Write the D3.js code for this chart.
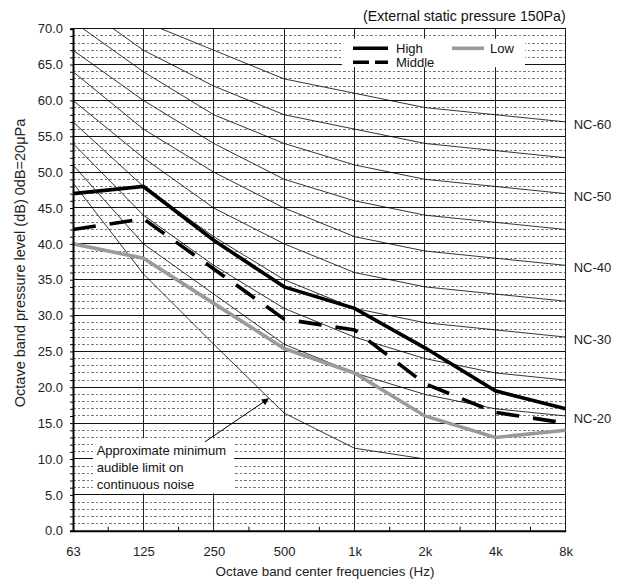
<!DOCTYPE html>
<html>
<head>
<meta charset="utf-8">
<script src="https://cdn.jsdelivr.net/npm/d3@7"></script>
<style>
  body { margin: 0; background: #fff; }
  svg { display: block; font-family: "Liberation Sans", Arial, sans-serif; }
</style>
</head>
<body>
<svg id="chart" width="625" height="581"></svg>
<script>
// Octave band centre frequencies
const freqs = ["63", "125", "250", "500", "1k", "2k", "4k", "8k"];

// Measured sound levels (dB)
const high = [47, 48, 40.5, 34, 31, 25.5, 19.5, 17];
const middle = [42, 43.5, 36.5, 29.5, 28, 20.5, 16.5, 15];
const low = [40, 38, 31.7, 25.4, 22, 16, 13, 14];

// NC reference curves
const ncNames = ["NC-20", "NC-25", "NC-30", "NC-35", "NC-40", "NC-45", "NC-50", "NC-55", "NC-60"];
const ncValues = [
  [51, 40, 33, 26, 22, 19, 17, 16],
  [54, 44, 37, 31, 27, 24, 22, 21],
  [57, 48, 41, 35, 31, 29, 28, 27],
  [60, 52, 45, 40, 36, 34, 33, 32],
  [64, 56, 50, 45, 41, 39, 38, 37],
  [67, 60, 54, 49, 46, 44, 43, 42],
  [71, 64, 58, 54, 51, 49, 48, 47],
  [74, 67, 62, 58, 56, 54, 53, 52],
  [77, 71, 67, 63, 61, 59, 58, 57]
];
const ncLabelled = ["NC-20", "NC-30", "NC-40", "NC-50", "NC-60"];

// Approximate minimum audible limit (63 Hz .. 2 kHz)
const audible = [48.5, 35.8, 26, 16.4, 11.5, 10];

const yMajor = d3.range(0, 71, 5);
const yMinor = d3.range(1, 70).filter(v => v % 5 !== 0);

const annotationLines = ["Approximate minimum", "audible limit on", "continuous noise"];

// Layout
let margin = { top: 28.7, right: 59.3, bottom: 50.3, left: 73 },
  width = 625 - margin.left - margin.right,
  height = 581 - margin.top - margin.bottom,
  fontSize = 13;

const svg = d3.select("#chart");
const g = svg.append("g")
  .attr("transform", "translate(" + margin.left + "," + margin.top + ")");

const x = d3.scalePoint().domain(freqs).range([0, width]);
const y = d3.scaleLinear().domain([0, 70]).range([height, 0]);
const step = x.step();

svg.append("defs").append("clipPath").attr("id", "plotClip")
  .append("rect").attr("width", width).attr("height", height);

svg.select("defs").append("marker")
  .attr("id", "arrowHead")
  .attr("viewBox", "0 0 10 10")
  .attr("refX", 9).attr("refY", 5)
  .attr("markerWidth", 9).attr("markerHeight", 7)
  .attr("markerUnits", "userSpaceOnUse")
  .attr("orient", "auto")
  .append("path").attr("d", "M0,0 L10,5 L0,10 z").attr("fill", "#000");

// Dashed 1 dB lines
g.append("g").selectAll("line").data(yMinor).join("line")
  .attr("x1", 0).attr("x2", width)
  .attr("y1", d => y(d)).attr("y2", d => y(d))
  .attr("stroke", "#555").attr("stroke-width", 0.8)
  .attr("stroke-dasharray", "2.5,2")
  .attr("shape-rendering", "crispEdges");

// Solid 5 dB lines
g.append("g").selectAll("line").data(yMajor.filter(d => d > 0)).join("line")
  .attr("x1", 0).attr("x2", width)
  .attr("y1", d => y(d)).attr("y2", d => y(d))
  .attr("stroke", "#111").attr("stroke-width", 1)
  .attr("shape-rendering", "crispEdges");

// Vertical octave lines (last one is the right border)
g.append("g").selectAll("line").data(freqs.slice(1)).join("line")
  .attr("x1", d => x(d)).attr("x2", d => x(d))
  .attr("y1", 0).attr("y2", height)
  .attr("stroke", "#222").attr("stroke-width", 1)
  .attr("shape-rendering", "crispEdges");

// Annotation box (white, hides grid)
const boxX = x("63") + 20, boxY = y(12.9), boxW = 141, boxH = y(5.2) - y(12.9);
g.append("rect")
  .attr("x", boxX).attr("y", boxY)
  .attr("width", boxW).attr("height", boxH)
  .attr("fill", "#fff");

// Legend box (white, hides grid)
g.append("rect")
  .attr("x", 269).attr("y", 10)
  .attr("width", 183).attr("height", 28.5)
  .attr("fill", "#fff");

const plot = g.append("g").attr("clip-path", "url(#plotClip)");

const line = d3.line()
  .x((d, i) => x(freqs[i]))
  .y(d => y(d));

// NC curves
plot.append("g").selectAll("path").data(ncValues).join("path")
  .attr("d", line)
  .attr("fill", "none")
  .attr("stroke", "#000")
  .attr("stroke-width", 0.8);

// Audible limit
plot.append("path")
  .attr("d", line(audible))
  .attr("fill", "none")
  .attr("stroke", "#000")
  .attr("stroke-width", 0.8);

// Data series
const seriesStyle = {
  High: { data: high, color: "#000", dash: null },
  Middle: { data: middle, color: "#000", dash: "23,14" },
  Low: { data: low, color: "#9a9a9a", dash: null }
};
["Low", "Middle", "High"].forEach(name => {
  const s = seriesStyle[name];
  plot.append("path")
    .attr("d", line(s.data))
    .attr("fill", "none")
    .attr("stroke", s.color)
    .attr("stroke-width", 3.6)
    .attr("stroke-dasharray", s.dash);
});

// Top border
g.append("line")
  .attr("x1", 0).attr("x2", width).attr("y1", 0).attr("y2", 0)
  .attr("stroke", "#111").attr("stroke-width", 1)
  .attr("shape-rendering", "crispEdges");

// Legend
const legendItems = [
  { name: "High", lx: 280, ly: 19.6, dash: null },
  { name: "Middle", lx: 280, ly: 33.5, dash: "16,6" },
  { name: "Low", lx: 379, ly: 19.6, dash: null }
];
const legend = g.append("g");
legendItems.forEach(it => {
  const s = seriesStyle[it.name];
  legend.append("line")
    .attr("x1", it.lx).attr("x2", it.lx + (it.name === "Low" ? 32 : 35))
    .attr("y1", it.ly).attr("y2", it.ly)
    .attr("stroke", s.color).attr("stroke-width", 3.6)
    .attr("stroke-dasharray", it.dash);
  legend.append("text")
    .attr("x", it.lx + (it.name === "Low" ? 38 : 43))
    .attr("y", it.ly).attr("dy", "0.35em")
    .attr("font-size", fontSize)
    .attr("fill", "#111")
    .text(it.name);
});

// Annotation text + arrow
const annText = g.append("text")
  .attr("font-size", fontSize).attr("fill", "#111");
annotationLines.forEach((t, i) => {
  annText.append("tspan")
    .attr("x", boxX + 3.7)
    .attr("y", boxY + 17 + i * 16.7)
    .text(t);
});
g.append("line")
  .attr("x1", x("125") + 0.876 * step).attr("y1", y(12.4))
  .attr("x2", x("250") + 0.775 * step).attr("y2", y(18.4))
  .attr("stroke", "#000").attr("stroke-width", 1)
  .attr("marker-end", "url(#arrowHead)");

// Axes
const yAxis = d3.axisLeft(y)
  .tickValues(d3.range(0, 71, 1))
  .tickSize(3)
  .tickPadding(7)
  .tickFormat(d => d % 5 === 0 ? d3.format(".1f")(d) : "");
const yAxisG = g.append("g").call(yAxis);
yAxisG.select(".domain").attr("stroke-width", 2);
yAxisG.selectAll(".tick line").attr("stroke-width", 1);
yAxisG.selectAll("text").attr("font-size", fontSize).attr("fill", "#222")
  .attr("font-family", "Liberation Sans, Arial, sans-serif");

const xAxis = d3.axisBottom(x).tickSize(0).tickPadding(16);
const xAxisG = g.append("g")
  .attr("transform", "translate(0," + height + ")")
  .call(xAxis);
xAxisG.select(".domain").attr("stroke-width", 2);
xAxisG.selectAll("text").attr("font-size", fontSize).attr("fill", "#222")
  .attr("font-family", "Liberation Sans, Arial, sans-serif");

// Minor ticks half way between octaves, pointing up
g.append("g").selectAll("line").data(freqs.slice(0, -1)).join("line")
  .attr("x1", d => x(d) + step / 2).attr("x2", d => x(d) + step / 2)
  .attr("y1", height).attr("y2", height - 4)
  .attr("stroke", "#000").attr("stroke-width", 1);

// NC labels
g.append("g").selectAll("text").data(ncLabelled).join("text")
  .attr("x", width + 8)
  .attr("y", d => y(ncValues[ncNames.indexOf(d)][freqs.length - 1]))
  .attr("dy", "0.55em")
  .attr("font-size", fontSize)
  .attr("fill", "#222")
  .text(d => d);

// Titles
svg.append("text")
  .attr("x", margin.left + width).attr("y", 21)
  .attr("text-anchor", "end")
  .attr("font-size", 14.2)
  .attr("fill", "#111")
  .text("(External static pressure 150Pa)");

svg.append("text")
  .attr("transform", "translate(25," + 263 + ") rotate(-90)")
  .attr("text-anchor", "middle")
  .attr("font-size", 14.5)
  .attr("fill", "#222")
  .text("Octave band pressure level (dB) 0dB=20μPa");

svg.append("text")
  .attr("x", 325).attr("y", 576)
  .attr("text-anchor", "middle")
  .attr("font-size", 13.4)
  .attr("fill", "#222")
  .text("Octave band center frequencies (Hz)");
</script>
</body>
</html>
